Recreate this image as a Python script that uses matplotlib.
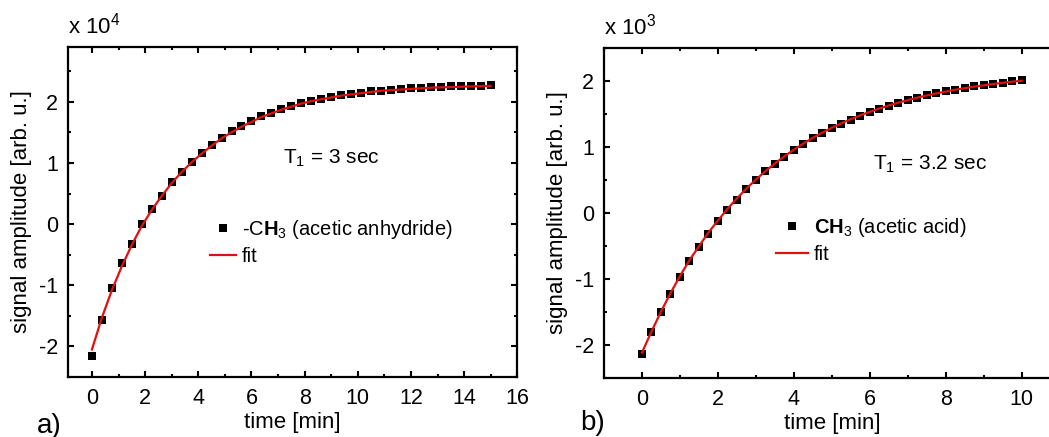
import matplotlib
matplotlib.use("Agg")
import matplotlib.pyplot as plt
from matplotlib.ticker import MultipleLocator

plt.rcParams['font.family'] = ['Liberation Sans', 'DejaVu Sans']
plt.rcParams['mathtext.fontset'] = 'custom'
plt.rcParams['mathtext.rm'] = 'Liberation Sans'
plt.rcParams['mathtext.it'] = 'Liberation Sans:italic'
plt.rcParams['mathtext.bf'] = 'Liberation Sans:bold'
plt.rcParams['axes.unicode_minus'] = False

# ---------------- data: panel a (x 10^4) ----------------
time_a = [0.0, 0.375, 0.75, 1.125, 1.5, 1.875, 2.25, 2.625, 3.0, 3.375,
          3.75, 4.125, 4.5, 4.875, 5.25, 5.625, 6.0, 6.375, 6.75, 7.125,
          7.5, 7.875, 8.25, 8.625, 9.0, 9.375, 9.75, 10.125, 10.5, 10.875,
          11.25, 11.625, 12.0, 12.375, 12.75, 13.125, 13.5, 13.875, 14.25, 14.625, 15.0]
signal_a = [-2.15, -1.56, -1.05, -0.63, -0.32, -0.005, 0.24, 0.46, 0.68, 0.855,
            1.02, 1.16, 1.29, 1.41, 1.525, 1.61, 1.69, 1.76, 1.82, 1.88,
            1.93, 1.98, 2.01, 2.05, 2.08, 2.11, 2.13, 2.15, 2.17, 2.18,
            2.20, 2.21, 2.22, 2.23, 2.24, 2.24, 2.25, 2.255, 2.26, 2.265, 2.27]
fit_a = [-2.05, -1.53, -1.08, -0.69, -0.34, -0.03, 0.23, 0.46, 0.67, 0.85,
         1.01, 1.15, 1.28, 1.40, 1.50, 1.59, 1.67, 1.75, 1.81, 1.87,
         1.92, 1.97, 2.01, 2.04, 2.07, 2.10, 2.12, 2.14, 2.16, 2.18,
         2.19, 2.20, 2.21, 2.22, 2.23, 2.235, 2.24, 2.245, 2.25, 2.255, 2.26]

# ---------------- data: panel b (x 10^3) ----------------
time_b = [0.0, 0.25, 0.5, 0.75, 1.0, 1.25, 1.5, 1.75, 2.0, 2.25,
          2.5, 2.75, 3.0, 3.25, 3.5, 3.75, 4.0, 4.25, 4.5, 4.75,
          5.0, 5.25, 5.5, 5.75, 6.0, 6.25, 6.5, 6.75, 7.0, 7.25,
          7.5, 7.75, 8.0, 8.25, 8.5, 8.75, 9.0, 9.25, 9.5, 9.75, 10.0]
signal_b = [-2.14, -1.81, -1.51, -1.23, -0.97, -0.735, -0.52, -0.32, -0.12, 0.04,
            0.20, 0.36, 0.50, 0.63, 0.745, 0.85, 0.955, 1.045, 1.125, 1.205,
            1.28, 1.35, 1.41, 1.47, 1.525, 1.575, 1.62, 1.665, 1.705, 1.745,
            1.78, 1.81, 1.84, 1.865, 1.89, 1.915, 1.935, 1.955, 1.97, 1.99, 2.01]
fit_b = [-2.12, -1.80, -1.50, -1.22, -0.96, -0.72, -0.51, -0.30, -0.12, 0.057,
         0.217, 0.365, 0.502, 0.629, 0.746, 0.854, 0.955, 1.048, 1.134, 1.213,
         1.287, 1.354, 1.417, 1.475, 1.529, 1.578, 1.625, 1.667, 1.706, 1.743,
         1.777, 1.807, 1.836, 1.863, 1.887, 1.91, 1.93, 1.95, 1.968, 1.985, 2.0]

labels_data = [r'-C$\mathbf{H}_3$ (acetic anhydride)', r'$\mathbf{CH}_3$ (acetic acid)']
label_fit = 'fit'
t1_texts = [r'T$_1$ = 3 sec', r'T$_1$ = 3.2 sec']
scale_texts = [r'x 10$^4$', r'x 10$^3$']
panel_tags = ['a)', 'b)']

W, H = 1049, 437
fig = plt.figure(figsize=(W / 100, H / 100), dpi=100)

def px_axes(l, r, t, b):
    return fig.add_axes([l / W, 1 - b / H, (r - l) / W, (b - t) / H])

ax_a = px_axes(68, 517.3, 46.7, 377.0)
ax_b = px_axes(604, 1059.7, 47.7, 377.7)

FS = 16

def style(ax):
    for s in ax.spines.values():
        s.set_linewidth(1.6)
    ax.xaxis.set_major_locator(MultipleLocator(2))
    ax.xaxis.set_minor_locator(MultipleLocator(1))
    ax.yaxis.set_major_locator(MultipleLocator(1))
    ax.yaxis.set_minor_locator(MultipleLocator(0.5))
    ax.tick_params(which='both', direction='in', top=True, right=True, width=1.5)
    ax.tick_params(which='major', length=4.5, labelsize=15.5)
    ax.tick_params(which='minor', length=2.5)
    ax.tick_params(axis='x', pad=8)
    ax.tick_params(axis='y', pad=7)
    ax.set_xlabel('time [min]', fontsize=FS, labelpad=2)
    ax.set_ylabel('signal amplitude [arb. u.]', fontsize=FS, labelpad=5)

panels = [
    (ax_a, time_a, signal_a, fit_a, (-0.9, 16), (-2.5, 2.9), 6.0, (7.17, 1.08), (0.316, 0.48), 1.3),
    (ax_b, time_b, signal_b, fit_b, (-1, 11), (-2.5, 2.5), 5.5, (6.09, 0.74), (0.377, 0.49), 1.6),
]

for i, (ax, t, y, f, xl, yl, ms, tpos, lpos, hl) in enumerate(panels):
    style(ax)
    ax.plot(t, y, 's', color='black', ms=ms, mew=0, label=labels_data[i], zorder=2)
    ax.plot(t, f, '-', color='#e01010', lw=1.6, label=label_fit, zorder=3)
    ax.set_xlim(*xl)
    ax.set_ylim(*yl)
    ax.text(tpos[0], tpos[1], t1_texts[i], fontsize=15, va='center', ha='left')
    ax.text(0.0, 1.025, scale_texts[i], transform=ax.transAxes, fontsize=FS,
            ha='left', va='bottom')
    ax.legend(loc='upper left', bbox_to_anchor=lpos, frameon=False, fontsize=14.5,
              borderpad=0, borderaxespad=0, handlelength=hl, handletextpad=0.3,
              labelspacing=0.3, numpoints=1)

fig.text(37 / W, 1 - 426 / H, panel_tags[0], fontsize=20, ha='left', va='center')
fig.text(580 / W, 1 - 423 / H, panel_tags[1], fontsize=20, ha='left', va='center')

fig.savefig('out.png', dpi=100)
